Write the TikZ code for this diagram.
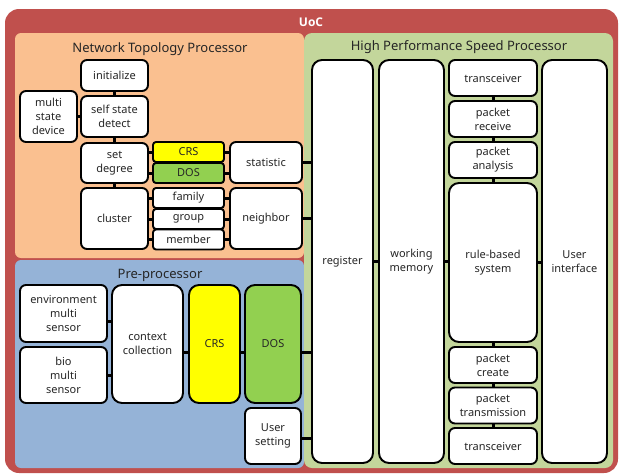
\documentclass[tikz,border=0pt]{standalone}
\usepackage{fontspec}
\setmainfont{Noto Sans}
\newfontfamily\uocfont{Open Sans}
\definecolor{uocred}{HTML}{C0504D}
\definecolor{ntporange}{HTML}{FAC090}
\definecolor{prebl}{HTML}{95B3D7}
\definecolor{hpgreen}{HTML}{C3D69B}
\definecolor{crsyel}{HTML}{FFFF00}
\definecolor{dosgrn}{HTML}{92D050}
\definecolor{txt}{HTML}{262626}
\begin{document}
\begin{tikzpicture}[x=1pt,y=-1pt,
  box/.style={draw=black, line width=1.9pt, fill=white, rounded corners=6pt, align=center,
    inner sep=0pt, text=txt, font=\fontsize{11}{14}\selectfont},
  tall/.style={box, rounded corners=10pt},
  conn/.style={draw=black, line width=3pt},
  title/.style={text=txt, font=\fontsize{13}{15}\selectfont, inner sep=0pt}]
\useasboundingbox (0,0) rectangle (619,475);
% backgrounds
\fill[uocred, rounded corners=14pt] (5,9) rectangle (618,473);
\fill[ntporange, rounded corners=6pt] (15,33) rectangle (304,258);
\fill[prebl, rounded corners=6pt] (15,260) rectangle (304,468);
\fill[hpgreen, rounded corners=8pt] (304,33) rectangle (613,468);
\node[text=white, font=\uocfont\bfseries\fontsize{12}{14}\selectfont, inner sep=0pt] (uoc) at (311,22) {UoC};
\node[title] (tntp) at (160,49) {Network Topology Processor};
\node[title] (thp) at (459,47) {High Performance Speed Processor};
\node[title] (tpre) at (160,275) {Pre-processor};
% NTP nodes
\node[box, minimum width=67pt, minimum height=31pt] (init) at (114.5,75.5) {initialize};
\node[box, minimum width=67pt, minimum height=41pt] (ssd) at (114.5,116.5) {self state\\detect};
\node[box, minimum width=57pt, minimum height=51pt] (msd) at (48.5,116.5) {multi\\state\\device};
\node[box, minimum width=67pt, minimum height=40pt] (setdeg) at (114.5,163) {set\\degree};
\node[box, fill=crsyel, rounded corners=3pt, minimum width=71pt, minimum height=20pt] (crsa) at (188.5,152) {CRS};
\node[box, fill=dosgrn, rounded corners=3pt, minimum width=71pt, minimum height=20pt] (dosa) at (188.5,173) {DOS};
\node[box, minimum width=72pt, minimum height=41pt] (stat) at (266,162.5) {statistic};
\node[box, minimum width=67pt, minimum height=61pt] (cluster) at (114.5,218.5) {cluster};
\node[box, rounded corners=3pt, minimum width=71pt, minimum height=20pt] (family) at (188.5,198) {family};
\node[box, rounded corners=3pt, minimum width=71pt, minimum height=20pt] (group) at (188.5,219) {group};
\node[box, rounded corners=3pt, minimum width=71pt, minimum height=20pt] (member) at (188.5,239.5) {member};
\node[box, minimum width=72pt, minimum height=61pt] (neighbor) at (266,218.5) {neighbor};
% Pre-processor nodes
\node[box, minimum width=87pt, minimum height=57pt] (env) at (63.5,313.5) {environment\\multi\\sensor};
\node[box, minimum width=87pt, minimum height=56pt] (bio) at (63.5,375) {bio\\multi\\sensor};
\node[tall, minimum width=71pt, minimum height=118pt] (ctx) at (147.5,344) {context\\collection};
\node[tall, fill=crsyel, minimum width=51pt, minimum height=118pt] (crsb) at (214.5,344) {CRS};
\node[tall, fill=dosgrn, minimum width=56pt, minimum height=118pt] (dosb) at (273,344) {DOS};
\node[box, minimum width=56pt, minimum height=56pt] (us) at (273,436) {User\\setting};
% HPSP nodes
\node[tall, minimum width=61pt, minimum height=403pt] (reg) at (342.5,261.5) {register};
\node[tall, minimum width=65pt, minimum height=403pt] (wm) at (411.5,261.5) {working\\memory};
\node[box, minimum width=88pt, minimum height=36pt] (tra) at (493,78) {transceiver};
\node[box, minimum width=88pt, minimum height=36pt] (pr) at (493,119) {packet\\receive};
\node[box, minimum width=88pt, minimum height=36pt] (pa) at (493,160) {packet\\analysis};
\node[tall, minimum width=88pt, minimum height=159pt] (rbs) at (493,262.5) {rule-based\\system};
\node[box, minimum width=88pt, minimum height=36pt] (pc) at (493,365) {packet\\create};
\node[box, minimum width=88pt, minimum height=36pt] (pt) at (493,405.5) {packet\\transmission};
\node[box, minimum width=88pt, minimum height=36pt] (trb) at (493,446) {transceiver};
\node[tall, minimum width=65pt, minimum height=403pt] (ui) at (574.5,261.5) {User\\interface};
% helper coordinates
\coordinate (y321) at (0,321);
\coordinate (y352) at (0,352);
\coordinate (y438) at (0,438);
% NTP connectors
\draw[conn] (init.south) -- (ssd.north);
\draw[conn] (ssd.south) -- (setdeg.north);
\draw[conn] (setdeg.south) -- (cluster.north);
\draw[conn] (msd.east) -- (msd.east -| ssd.west);
\draw[conn] (crsa.west) -- (crsa.west -| setdeg.east);
\draw[conn] (dosa.west) -- (dosa.west -| setdeg.east);
\draw[conn] (crsa.east) -- (crsa.east -| stat.west);
\draw[conn] (dosa.east) -- (dosa.east -| stat.west);
\draw[conn] (family.west) -- (family.west -| cluster.east);
\draw[conn] (group.west) -- (group.west -| cluster.east);
\draw[conn] (member.west) -- (member.west -| cluster.east);
\draw[conn] (family.east) -- (family.east -| neighbor.west);
\draw[conn] (group.east) -- (group.east -| neighbor.west);
\draw[conn] (member.east) -- (member.east -| neighbor.west);
\draw[conn] (stat.east) -- (stat.east -| reg.west);
\draw[conn] (neighbor.east) -- (neighbor.east -| reg.west);
% Pre connectors
\draw[conn] (env.east |- y321) -- (ctx.west |- y321);
\draw[conn] (bio.east) -- (bio.east -| ctx.west);
\draw[conn] (ctx.east |- y352) -- (crsb.west |- y352);
\draw[conn] (crsb.east |- y352) -- (dosb.west |- y352);
\draw[conn] (dosb.east |- y352) -- (reg.west |- y352);
\draw[conn] (us.east |- y438) -- (reg.west |- y438);
% HPSP connectors
\draw[conn] (reg.east) -- (wm.west);
\draw[conn] (wm.east) -- (wm.east -| rbs.west);
\draw[conn] (rbs.east) -- (rbs.east -| ui.west);
\draw[conn] (tra.south) -- (pr.north);
\draw[conn] (pr.south) -- (pa.north);
\draw[conn] (pa.south) -- (rbs.north);
\draw[conn] (rbs.south) -- (pc.north);
\draw[conn] (pc.south) -- (pt.north);
\draw[conn] (pt.south) -- (trb.north);
\end{tikzpicture}
\end{document}
